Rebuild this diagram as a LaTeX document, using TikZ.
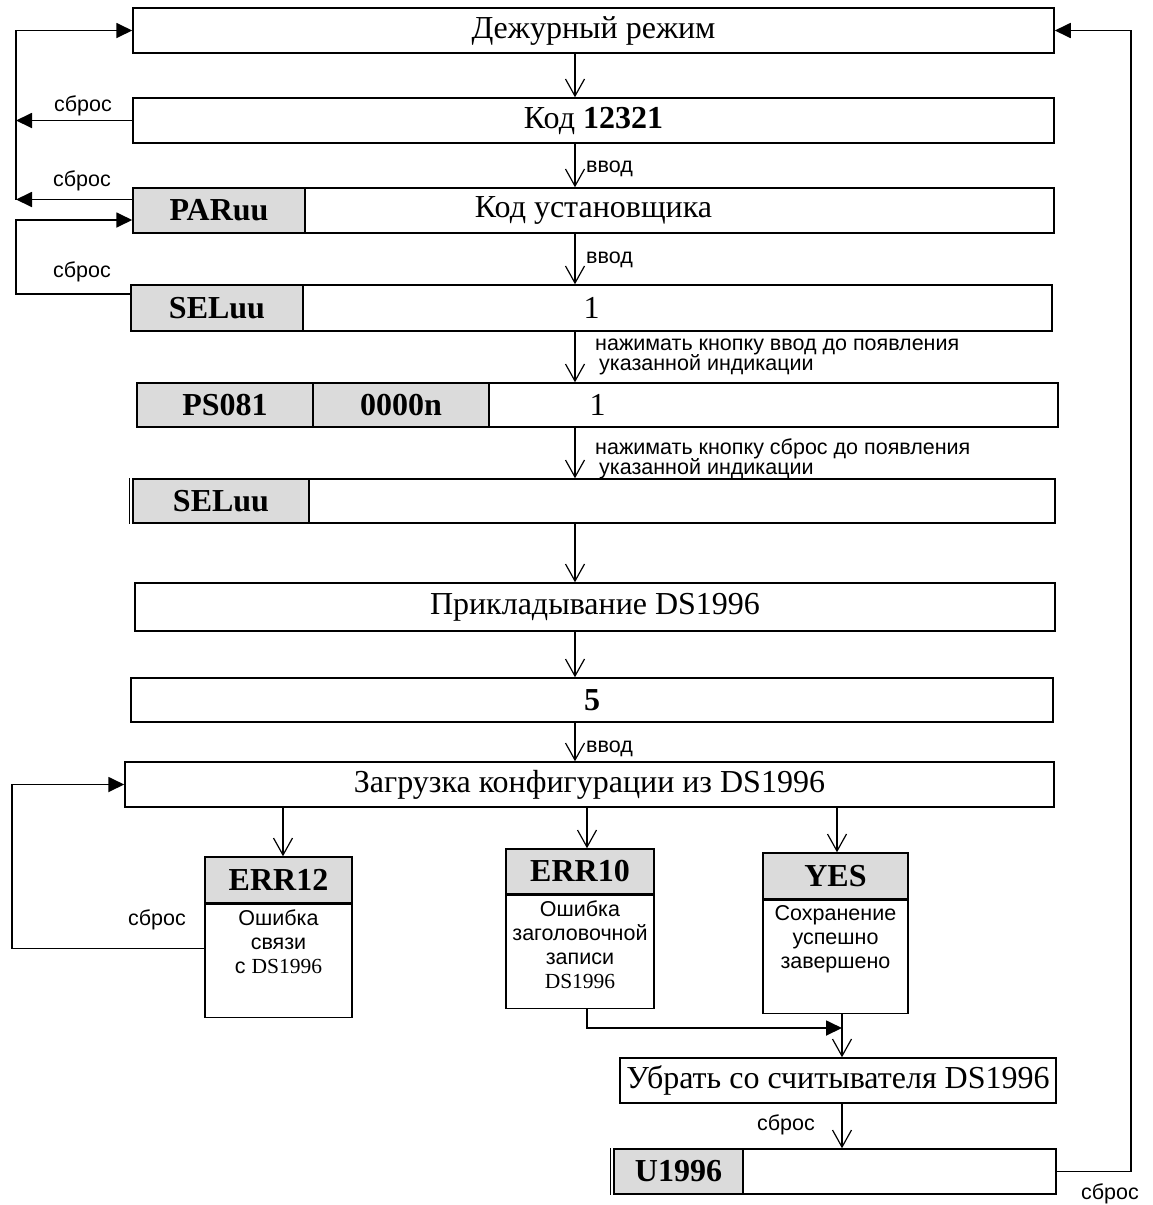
\documentclass[tikz,border=0pt]{standalone}
\usepackage{fontspec}
\setmainfont{Liberation Serif}
\setsansfont{Liberation Sans}
\usetikzlibrary{arrows.meta}

% text block inside the lower message boxes
\newcommand{\msgtxt}[3]{\parbox[c][#2][t]{#1}{\centering\sffamily\fontsize{21.5}{24}\selectfont\vspace*{5pt}#3}}

\begin{document}
\begin{tikzpicture}[x=1pt,y=-1pt,
    box/.style={draw,line width=1.5pt,inner sep=0pt,font=\fontsize{32}{34}\selectfont},
    grey/.style={box,fill=black!14,font=\fontsize{32}{34}\selectfont\bfseries},
    flow/.style={line width=1.2pt,-{Straight Barb[length=17pt,width=19pt,line width=1.2pt]}},
    back/.style={line width=1.8pt,-{Triangle[length=16pt,width=15pt]}},
    lbl/.style={font=\fontsize{21.5}{20.5}\selectfont\sffamily,inner sep=0pt}]
\useasboundingbox (0,0) rectangle (1152,1205);

% main chain
\node[box,minimum width=921pt,minimum height=45pt] (dezh) at (593.5,30.5) {Дежурный режим};
\node[box,minimum width=921pt,minimum height=45pt] (kod) at (593.5,120.5) {Код \textbf{12321}};
\node[box,minimum width=921pt,minimum height=45pt] (ust) at (593.5,210.5) {Код установщика};
\node[grey,minimum width=172pt,minimum height=45pt] (par) at (219,210.5) {PARuu};
\node[box,minimum width=921pt,minimum height=46pt] (sel) at (591.5,308) {1};
\node[grey,minimum width=172pt,minimum height=46pt] (selg) at (217,308) {SELuu};
\node[box,minimum width=921pt,minimum height=44pt] (ps) at (597.5,405) {1};
\node[grey,minimum width=176pt,minimum height=44pt] (psa) at (225,405) {PS081};
\node[grey,minimum width=176pt,minimum height=44pt] (psb) at (401,405) {0000n};
\node[box,minimum width=922pt,minimum height=44pt] (sel2) at (594,501) {};
\node[grey,minimum width=176pt,minimum height=44pt] (sel2g) at (221,501) {SELuu};
\node[box,minimum width=920pt,minimum height=48pt] (prikl) at (595,607) {Прикладывание DS1996};
\node[box,minimum width=922pt,minimum height=44pt] (five) at (592,700) {\textbf{5}};
\node[box,minimum width=929pt,minimum height=45pt] (zagr) at (589.5,784.5) {Загрузка конфигурации из DS1996};
\draw[line width=1pt] ([xshift=-3pt]sel2g.north west) -- ([xshift=-3pt]sel2g.south west);

% results of loading
\node[grey,minimum width=147pt,minimum height=46pt] (e12) at (278.5,880) {ERR12};
\node[box,anchor=north] (e12b) at (e12.south) {\msgtxt{147pt}{113pt}{Ошибка\\связи\\с {\rmfamily DS1996}}};
\node[grey,minimum width=148pt,minimum height=45pt] (e10) at (580,871.5) {ERR10};
\node[box,anchor=north] (e10b) at (e10.south) {\msgtxt{148pt}{113pt}{Ошибка\\заголовочной\\записи\\{\rmfamily DS1996}}};
\node[grey,minimum width=145pt,minimum height=46pt] (yes) at (835.5,876) {YES};
\node[box,anchor=north] (yesb) at (yes.south) {\msgtxt{145pt}{113pt}{Сохранение\\успешно\\завершено}};

\node[box,minimum width=436pt,minimum height=45pt] (ubr) at (838,1080.5) {Убрать со считывателя DS1996};
\node[box,minimum width=442pt,minimum height=45pt] (u) at (835,1171.5) {};
\node[grey,minimum width=129pt,minimum height=45pt] (ug) at (678.5,1171.5) {U1996};
\draw[line width=1pt] ([xshift=-3pt]ug.north west) -- ([xshift=-3pt]ug.south west);

% helper columns
\coordinate (mx) at (575,0);
\coordinate (c12) at (283,0);
\coordinate (c10) at (587,0);
\coordinate (cy) at (837,0);
\coordinate (jx) at (842,1028);
\coordinate (lx) at (16,0);
\coordinate (lx2) at (12,0);
\coordinate (rx) at (1131,0);

\foreach \a/\b in {dezh/kod,kod/ust,ust/sel,sel/ps,ps/sel2,sel2/prikl,prikl/five,five/zagr}
  \draw[flow] (\a.south -| mx) -- (\b.north -| mx);
\draw[flow] (zagr.south -| c12) -- (e12.north -| c12);
\draw[flow] (zagr.south -| c10) -- (e10.north -| c10);
\draw[flow] (zagr.south -| cy) -- (yes.north -| cy);
\draw[flow] (yesb.south -| jx) -- (ubr.north -| jx);
\draw[flow] (ubr.south -| jx) -- (u.north -| jx);

\node[lbl,anchor=base west] (v1) at (586,172) {ввод};
\node[lbl,anchor=base west] (v2) at (586,263) {ввод};
\node[lbl,anchor=west,align=left] (n1) at (595,357) {нажимать кнопку ввод до появления\\\hspace*{4pt}указанной индикации};
\node[lbl,anchor=west,align=left] (n2) at (595,459) {нажимать кнопку сброс до появления\\\hspace*{4pt}указанной индикации};
\node[lbl,anchor=base west] (v3) at (586,752) {ввод};

% reset lines
\draw[back] (kod.west) -- (kod.west -| lx);
\draw[back] ([yshift=11pt]par.west) -- ([yshift=11pt]par.west -| lx);
\draw[back] ([yshift=11pt]par.west -| lx) |- (dezh.west);
\draw[back] ([yshift=14pt]sel.west) -- ([yshift=14pt]sel.west -| lx) |- ([yshift=-9.5pt]par.west);
\draw[back] ([yshift=12.5pt]e12b.west) -- ([yshift=12.5pt]e12b.west -| lx2) |- (zagr.west);
\draw[back] (e10b.south -| c10) |- (jx);
\draw[back] (u.east) -- (u.east -| rx) -- (rx |- dezh.east) -- (dezh.east);

\node[lbl,anchor=base] (s1) at (83,111) {сброс};
\node[lbl,anchor=base] (s2) at (82,186) {сброс};
\node[lbl,anchor=base] (s3) at (82,277) {сброс};
\node[lbl,anchor=base] (s4) at (157,925) {сброс};
\node[lbl,anchor=base] (s5) at (786,1130) {сброс};
\node[lbl,anchor=base] (s6) at (1110,1199) {сброс};
\end{tikzpicture}
\end{document}
